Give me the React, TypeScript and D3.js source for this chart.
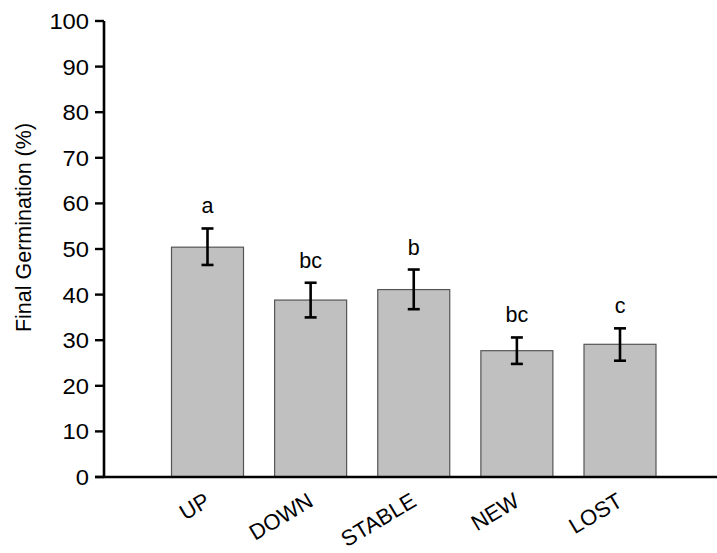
import React from "react";
import * as d3 from "d3";

const categories = ["UP", "DOWN", "STABLE", "NEW", "LOST"];
const means = [50.4, 38.8, 41.1, 27.7, 29.1];
const errUpper = [54.5, 42.6, 45.5, 30.6, 32.6];
const errLower = [46.5, 35.0, 36.8, 24.8, 25.5];
const letters = ["a", "bc", "b", "bc", "c"];
const yTicks = [0, 10, 20, 30, 40, 50, 60, 70, 80, 90, 100];

const W = 717;
const H = 553;
const FONT = "'Liberation Sans', Arial, Helvetica, sans-serif";

export default function App() {
  const axisX = 104;
  const y = d3.scaleLinear().domain([0, 100]).range([477, 21]);
  const x = d3.scalePoint<string>().domain(categories).range([207.5, 620]);
  const barW = 72;
  const capW = 12;

  return (
    <svg
      width={W}
      height={H}
      style={{ position: "fixed", left: 0, top: 0, background: "#fff" }}
      fontFamily={FONT}
    >
      <rect x={0} y={0} width={W} height={H} fill="#fff" />
      {categories.map((c, i) => {
        const cx = x(c)!;
        return (
          <rect
            key={c}
            x={cx - barW / 2}
            y={y(means[i])}
            width={barW}
            height={y(0) - y(means[i])}
            fill="#c0c0c0"
            stroke="#555"
            strokeWidth={1.2}
          />
        );
      })}
      {categories.map((c, i) => {
        const cx = x(c)!;
        return (
          <g key={c} stroke="#000" strokeWidth={2.6} fill="none">
            <line x1={cx} x2={cx} y1={y(errUpper[i])} y2={y(errLower[i])} />
            <line x1={cx - capW / 2} x2={cx + capW / 2} y1={y(errUpper[i])} y2={y(errUpper[i])} />
            <line x1={cx - capW / 2} x2={cx + capW / 2} y1={y(errLower[i])} y2={y(errLower[i])} />
          </g>
        );
      })}
      {categories.map((c, i) => (
        <text
          key={c}
          x={x(c)!}
          y={y(errUpper[i]) - 15}
          textAnchor="middle"
          fontSize={21.5}
          fill="#000"
        >
          {letters[i]}
        </text>
      ))}
      <line x1={axisX} x2={axisX} y1={y(100)} y2={y(0)} stroke="#000" strokeWidth={2.6} />
      {yTicks.map((t) => (
        <g key={t}>
          <line x1={axisX - 9} x2={axisX} y1={y(t)} y2={y(t)} stroke="#000" strokeWidth={2.4} />
          <text
            x={axisX - 15}
            y={y(t)}
            dy="0.36em"
            textAnchor="end"
            fontSize={22}
            fill="#000"
            transform={`translate(${axisX - 15},0) scale(1.08,1) translate(${-(axisX - 15)},0)`}
          >
            {t}
          </text>
        </g>
      ))}
      <line x1={axisX - 9} x2={W} y1={y(0)} y2={y(0)} stroke="#000" strokeWidth={2.6} />
      {categories.map((c) => (
        <text
          key={c}
          transform={`translate(${x(c)! + 4},${505}) rotate(-31)`}
          textAnchor="end"
          fontSize={22}
          fill="#000"
        >
          {c}
        </text>
      ))}
      <text
        transform={`translate(${30.5},${227.5}) rotate(-90)`}
        textAnchor="middle"
        fontSize={21.5}
        fill="#000"
      >
        Final Germination (%)
      </text>
    </svg>
  );
}
